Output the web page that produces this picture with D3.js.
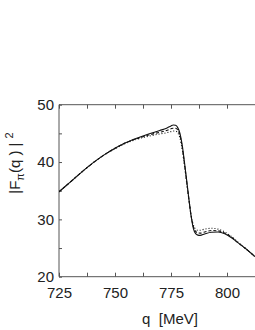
<!DOCTYPE html>
<html>
<head>
<meta charset="utf-8">
<script src="https://cdn.jsdelivr.net/npm/d3@7"></script>
<style>
  html, body { margin: 0; padding: 0; background: #fff; }
  svg { display: block; font-family: "Liberation Sans", Arial, sans-serif; }
</style>
</head>
<body>
<svg id="chart" width="255" height="330"></svg>
<script>
// momentum q in MeV
const qValues = [725, 730, 735, 740, 745, 750, 755, 760, 765, 770, 773, 775, 776, 777, 778,
  779, 780, 781, 782, 783, 784, 785, 786, 787, 788, 790, 793, 796, 799, 802, 805, 808, 812.5]

// |F_pi(q)|^2 for the three curves
const solidVals = [34.8, 36.5, 38.2, 39.8, 41.2, 42.4, 43.4, 44.2, 44.9, 45.5, 45.9, 46.3, 46.45, 46.4, 46.0,
  45.0, 43.0, 40.0, 36.8, 33.5, 30.5, 28.4, 27.5, 27.25, 27.2, 27.45, 27.75, 27.8, 27.5, 26.8, 25.9, 25.0, 23.5]
const dashedVals = [34.8, 36.5, 38.2, 39.8, 41.2, 42.4, 43.4, 44.1, 44.7, 45.2, 45.5, 45.8, 45.9, 45.9, 45.6,
  44.6, 42.6, 39.7, 36.6, 33.5, 30.6, 28.7, 27.9, 27.65, 27.6, 27.8, 28.05, 28.0, 27.6, 26.9, 25.9, 25.0, 23.5]
const dottedVals = [34.8, 36.5, 38.2, 39.8, 41.2, 42.3, 43.3, 44.0, 44.5, 44.9, 45.1, 45.3, 45.4, 45.4, 45.1,
  44.2, 42.2, 39.4, 36.4, 33.4, 30.7, 29.0, 28.3, 28.1, 28.1, 28.3, 28.45, 28.3, 27.8, 27.0, 26.0, 25.0, 23.5]

const xMajor = [725, 750, 775, 800]
const xMinor = [737.5, 762.5, 787.5, 812.5]
const yMajor = [20, 30, 40, 50]
const yMinor = [25, 35, 45]

const svg = d3.select('#chart')
const mLeft = 59, mRight = 255, mTop = 104.7, mBottom = 276.7

const x = d3.scaleLinear().domain([725, 812.5]).range([mLeft, mRight])
const y = d3.scaleLinear().domain([20, 50]).range([mBottom, mTop])

const axisColor = '#555'
const textColor = '#222'

// frame lines
svg.append('line').attr('x1', mLeft).attr('x2', mRight).attr('y1', mTop).attr('y2', mTop)
  .attr('stroke', axisColor).attr('stroke-width', 1)
svg.append('line').attr('x1', mLeft).attr('x2', mRight).attr('y1', mBottom).attr('y2', mBottom)
  .attr('stroke', axisColor).attr('stroke-width', 1)
svg.append('line').attr('x1', mLeft).attr('x2', mLeft).attr('y1', mTop).attr('y2', mBottom)
  .attr('stroke', axisColor).attr('stroke-width', 1)

// bottom axis: ticks pointing inward, labels below
const bottomAxis = d3.axisBottom(x).tickValues(xMajor.concat(xMinor))
  .tickSize(-4).tickPadding(11).tickFormat(d => xMajor.includes(d) ? d : '')
svg.append('g').attr('transform', `translate(0,${mBottom})`).call(bottomAxis)
  .call(g => g.select('.domain').remove())

// top axis ticks only
const topAxis = d3.axisTop(x).tickValues(xMajor.concat(xMinor)).tickSize(-4).tickFormat('')
svg.append('g').attr('transform', `translate(0,${mTop})`).call(topAxis)
  .call(g => g.select('.domain').remove())

// left axis
const leftAxis = d3.axisLeft(y).tickValues(yMajor.concat(yMinor))
  .tickSize(-3).tickPadding(5).tickFormat(d => yMajor.includes(d) ? d : '')
svg.append('g').attr('transform', `translate(${mLeft},0)`).call(leftAxis)
  .call(g => g.select('.domain').remove())

svg.selectAll('.tick line').attr('stroke', axisColor)
svg.selectAll('.tick text').attr('fill', textColor).style('font-size', '15px')
  .style('font-family', '"Liberation Sans", Arial, sans-serif')

// curves
const series = [
  { vals: dottedVals, dash: '1,2' },
  { vals: dashedVals, dash: '3,2' },
  { vals: solidVals, dash: null },
]
const line = d3.line().curve(d3.curveMonotoneX)
  .x(d => x(d[0])).y(d => y(d[1]))

svg.append('defs').append('clipPath').attr('id', 'clip')
  .append('rect').attr('x', mLeft).attr('y', mTop).attr('width', mRight - mLeft).attr('height', mBottom - mTop)

svg.append('g').attr('clip-path', 'url(#clip)')
  .selectAll('path').data(series).enter()
  .append('path')
    .attr('d', s => line(qValues.map((q, i) => [q, s.vals[i]])))
    .attr('fill', 'none')
    .attr('stroke', '#111')
    .attr('stroke-width', 1.1)
    .attr('stroke-dasharray', s => s.dash)

// axis titles
svg.append('text').attr('x', 170).attr('y', 324).attr('text-anchor', 'middle')
  .attr('fill', textColor).style('font-size', '15px').style('white-space', 'pre')
  .text('q  [MeV]')

const yl = svg.append('text')
  .attr('transform', 'translate(20,163) rotate(-90)')
  .attr('text-anchor', 'middle').attr('fill', textColor).style('font-size', '15px')
  .style('white-space', 'pre')
yl.append('tspan').text('|F')
yl.append('tspan').attr('dy', 4).style('font-size', '11px').text('π')
yl.append('tspan').attr('dy', -4).text('(q ) | ')
yl.append('tspan').attr('dy', -7).style('font-size', '11px').text('2')
</script>
</body>
</html>
